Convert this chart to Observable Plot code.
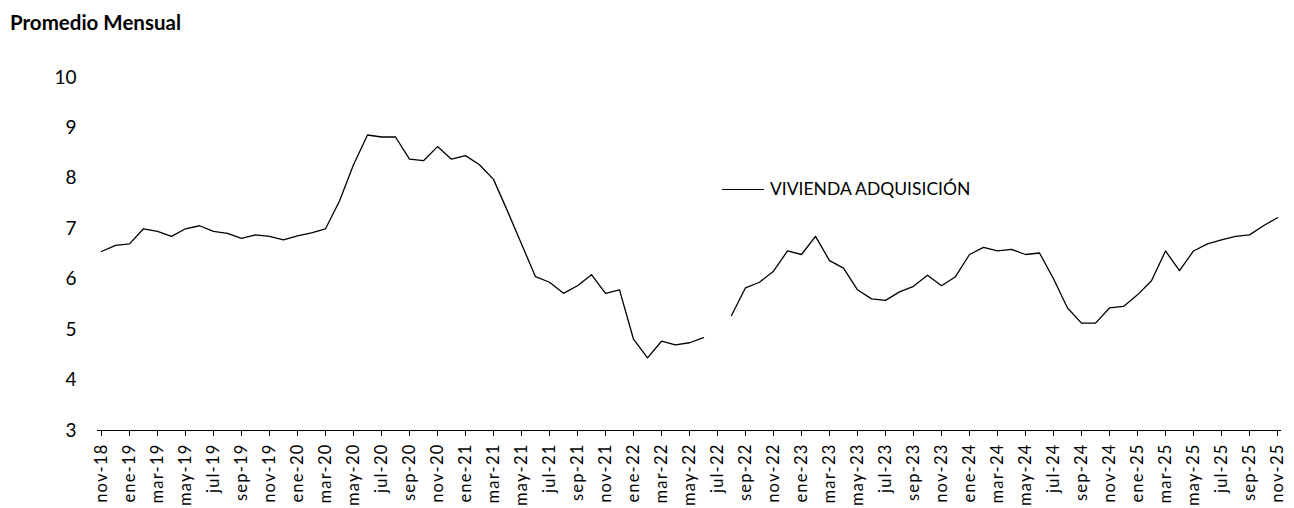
<!DOCTYPE html>
<html><head><meta charset="utf-8">
<script src="https://cdn.jsdelivr.net/npm/d3@7"></script>
<script src="https://cdn.jsdelivr.net/npm/@observablehq/plot@0.6"></script>
<style>
body{margin:0;background:#fff;font-family:Lato,"Open Sans",sans-serif;color:#000}
#wrap{position:relative;width:1294px;height:508px;overflow:hidden;background:#fff}
#hdr{height:40px;box-sizing:border-box;padding:11px 0 0 10px;font-weight:bold;font-size:20.5px;line-height:22px}
#legend{position:absolute;left:722px;top:179px;font-size:17.5px;line-height:20px;display:flex;align-items:center;white-space:nowrap}
#legend .sw{display:inline-block;width:42px;height:0;border-top:1.3px solid #000;margin-right:6px}
#chart svg g[aria-label="x-axis tick label"] text{letter-spacing:1.2px}
</style></head>
<body>
<div id="wrap">
<div id="hdr">Promedio Mensual</div>
<div id="chart"></div>
<div id="legend"><span class="sw"></span><span id="lgtext"></span></div>
</div>
<script>
const seriesName = "VIVIENDA ADQUISICIÓN";
const months = [
"nov-18","dic-18",
"ene-19","feb-19","mar-19","abr-19","may-19","jun-19","jul-19","ago-19","sep-19","oct-19","nov-19","dic-19",
"ene-20","feb-20","mar-20","abr-20","may-20","jun-20","jul-20","ago-20","sep-20","oct-20","nov-20","dic-20",
"ene-21","feb-21","mar-21","abr-21","may-21","jun-21","jul-21","ago-21","sep-21","oct-21","nov-21","dic-21",
"ene-22","feb-22","mar-22","abr-22","may-22","jun-22","jul-22","ago-22","sep-22","oct-22","nov-22","dic-22",
"ene-23","feb-23","mar-23","abr-23","may-23","jun-23","jul-23","ago-23","sep-23","oct-23","nov-23","dic-23",
"ene-24","feb-24","mar-24","abr-24","may-24","jun-24","jul-24","ago-24","sep-24","oct-24","nov-24","dic-24",
"ene-25","feb-25","mar-25","abr-25","may-25","jun-25","jul-25","ago-25","sep-25","oct-25","nov-25"
];
const values = [
6.55,6.67,
6.70,7.00,6.95,6.85,7.00,7.06,6.95,6.91,6.81,6.88,6.85,6.78,
6.86,6.92,7.00,7.55,8.27,8.86,8.82,8.82,8.38,8.35,8.63,8.38,
8.45,8.27,7.98,7.35,6.70,6.05,5.94,5.72,5.87,6.09,5.72,5.79,
4.81,4.44,4.77,4.70,4.74,4.84,null,5.28,5.83,5.94,6.16,6.56,
6.49,6.85,6.37,6.22,5.79,5.61,5.58,5.75,5.86,6.08,5.87,6.05,
6.49,6.63,6.56,6.59,6.49,6.52,6.01,5.43,5.13,5.13,5.43,5.46,
5.69,5.97,6.56,6.17,6.56,6.70,6.78,6.85,6.88,7.06,7.22
];
const yTicks = [3,4,5,6,7,8,9,10];
const xTicks = months.filter((d,i)=>i%2===0);

document.getElementById("lgtext").textContent = seriesName;
const data = months.map((m,i)=>({month:m, value:values[i]}));

const chart = Plot.plot({
  width:1294, height:468,
  marginTop:37, marginBottom:78, marginLeft:97, marginRight:13,
  style:{fontFamily:"Lato, 'Open Sans', sans-serif", fontSize:"15px", color:"#000", background:"#fff", overflow:"visible"},
  x:{type:"point", domain:months, padding:0, label:null},
  y:{domain:[3,10], label:null},
  marks:[
    Plot.axisY({ticks:yTicks, tickFormat:d=>String(d), tickSize:0, tickPadding:21, fontSize:19, label:null}),
    Plot.axisX({ticks:xTicks, tickRotate:-90, tickSize:6, tickPadding:7, fontSize:16.5, label:null, ariaLabel:"x-axis"}),
    Plot.ruleY([3], {stroke:"#000", strokeWidth:1.2}),
    Plot.line(data, {x:"month", y:"value", stroke:"#000", strokeWidth:1.3})
  ]
});
document.getElementById("chart").appendChild(chart);
</script>
</body></html>
